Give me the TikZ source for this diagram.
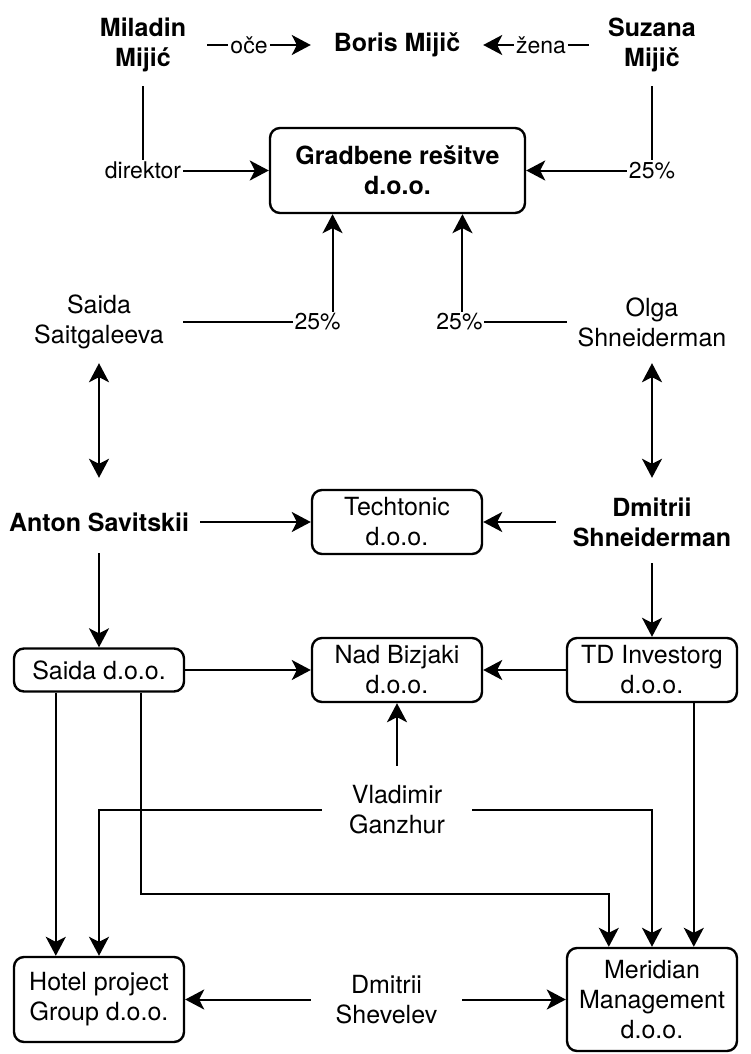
\documentclass[tikz,border=0pt]{standalone}
\usepackage{fontspec}
\setmainfont{TeX Gyre Heros}
\usepackage{tikz}
\usetikzlibrary{arrows.meta,positioning}
\newcommand\nametxt{\fontsize{25}{30}\selectfont}
\tikzset{
  person/.style={align=center,font=\nametxt\bfseries,inner sep=0pt},
  plain/.style={align=center,font=\nametxt,inner sep=0pt},
  firm/.style={draw,line width=2.4pt,rounded corners=10pt,
               align=center,font=\nametxt,inner sep=0pt},
  tag/.style={fill=white,font=\fontsize{23}{27}\selectfont,inner sep=2pt},
  link/.style={-{Stealth[length=19pt,width=20pt,inset=5pt]},line width=2pt},
  twoway/.style={{Stealth[length=19pt,width=20pt,inset=5pt]}-{Stealth[length=19pt,width=20pt,inset=5pt]},line width=2pt}
}
\begin{document}
\begin{tikzpicture}[x=1pt,y=-1pt]
  \useasboundingbox (0,0) rectangle (750,1054);
  % family on top
  \node[person,minimum width=128pt,minimum height=82pt] (miladin) at (143,45) {Miladin\\Mijić};
  \node[person,minimum width=172pt,minimum height=60pt] (boris) at (397,45) {Boris Mijič};
  \node[person,minimum width=126pt,minimum height=82pt] (suzana) at (652,45) {Suzana\\Mijič};
  \node[firm,font=\nametxt\bfseries,minimum width=255pt,minimum height=85pt] (gradbene) at (397.5,170.5) {Gradbene rešitve\\d.o.o.};

  % owners
  \node[plain,minimum width=168pt,minimum height=82pt] (saitgaleeva) at (99,322) {Saida\\Saitgaleeva};
  \node[plain,minimum width=170pt,minimum height=82pt] (olga) at (652,322) {Olga\\Shneiderman};
  \node[person,minimum width=202pt,minimum height=88pt] (anton) at (99,522) {Anton Savitskii};
  \node[firm,minimum width=170pt,minimum height=64pt] (techtonic) at (397,522) {Techtonic\\d.o.o.};
  \node[person,minimum width=192pt,minimum height=88pt] (dmitrii) at (652,522) {Dmitrii\\Shneiderman};

  % companies
  \node[firm,minimum width=170pt,minimum height=43pt] (saida) at (99,670) {Saida d.o.o.};
  \node[firm,minimum width=170pt,minimum height=64pt] (nad) at (397,670) {Nad Bizjaki\\d.o.o.};
  \node[firm,minimum width=170pt,minimum height=64pt] (td) at (652,670) {TD Investorg\\d.o.o.};
  \node[plain,minimum width=150pt,minimum height=88pt] (vladimir) at (397,810) {Vladimir\\Ganzhur};
  \node[firm,minimum width=170pt,minimum height=85pt] (hotel) at (99,999.5) {Hotel project\\Group d.o.o.};
  \node[plain,minimum width=151pt,minimum height=60pt] (shevelev) at (386.5,999.5) {Dmitrii\\Shevelev};
  \node[firm,minimum width=170pt,minimum height=103pt] (meridian) at (652,999.5) {Meridian\\Management\\d.o.o.};

  % top links
  \draw[link] (miladin.east) -- node[tag,xshift=-10pt]{oče} (boris.west);
  \draw[link] (suzana.west) -- node[tag,xshift=5pt]{žena} (boris.east);
  \draw[link] (miladin.south) |- node[tag,pos=0.5]{direktor} (gradbene.west);
  \draw[link] (suzana.south) |- node[tag,pos=0.5]{25\%} (gradbene.east);
  \draw[link] (saitgaleeva.east) -| node[tag,pos=0.5,xshift=-15pt]{25\%} ([xshift=63.75pt]gradbene.south west);
  \draw[link] (olga.west) -| node[tag,pos=0.5,xshift=-3pt]{25\%} ([xshift=-63.75pt]gradbene.south east);
  \draw[twoway] (saitgaleeva.south) -- (anton.north);
  \draw[twoway] (olga.south) -- (dmitrii.north);

  % middle links
  \draw[link] (anton.east) -- (techtonic.west);
  \draw[link] (dmitrii.west) -- (techtonic.east);
  \draw[link] ([yshift=13pt]anton.south) -- (saida.north);
  \draw[link] ([yshift=3pt]dmitrii.south) -- (td.north);
  \draw[link] (saida.east) -- (nad.west);
  \draw[link] (td.west) -- (nad.east);
  \draw[link] (vladimir.north) -- (nad.south);

  % bottom links
  \draw[link] ([xshift=43pt]saida.south west) -- ([xshift=43pt]hotel.north west);
  \draw[link] ([xshift=128pt]saida.south west) -- ++(0,201) -| ([xshift=43pt]meridian.north west);
  \draw[link] (vladimir.west) -| (hotel.north);
  \draw[link] (vladimir.east) -| (meridian.north);
  \draw[link] ([xshift=128pt]td.south west) -- ([xshift=128pt]meridian.north west);
  \draw[link] (shevelev.west) -- (hotel.east);
  \draw[link] (shevelev.east) -- (meridian.west);
\end{tikzpicture}
\end{document}
